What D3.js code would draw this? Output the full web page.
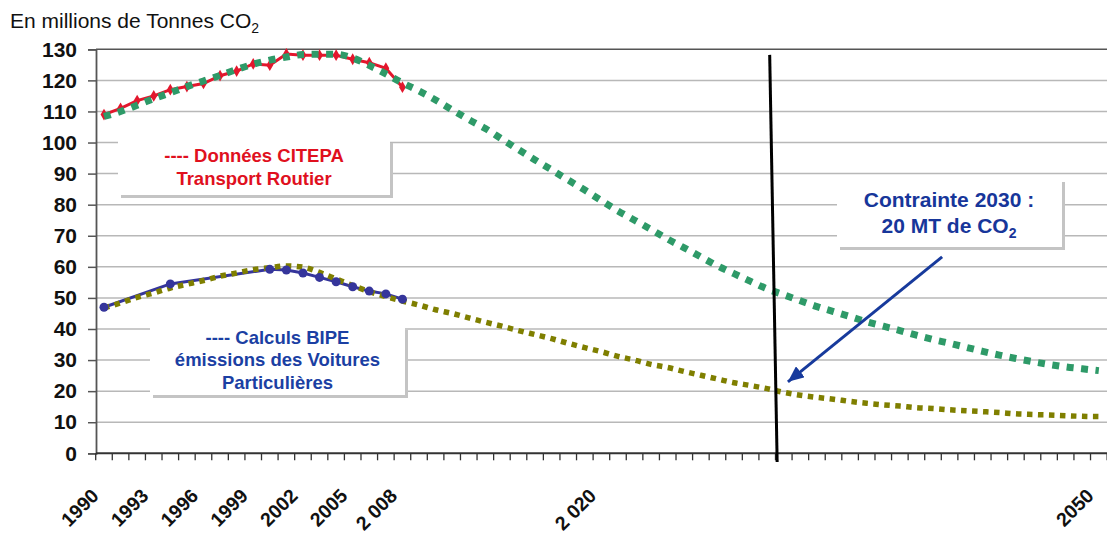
<!DOCTYPE html>
<html>
<head>
<meta charset="utf-8">
<script src="https://cdn.jsdelivr.net/npm/d3@7"></script>
<style>
  body { margin: 0; background: #fff; }
  svg { display: block; font-family: "Liberation Sans", Arial, sans-serif; }
</style>
</head>
<body>
<div id="viz"></div>
<script>
// ---- data ----
var years = d3.range(1990, 2051);

var citepaYears = d3.range(1990, 2009);
var citepa = [109, 111, 113.5, 115, 117, 118, 119, 121.5, 123, 125.3, 124.9, 128.5, 128.1, 128.1, 128.1, 126.8, 125.7, 123.9, 117.8];

var bipeYears = [1990, 1994, 2000, 2001, 2002, 2003, 2004, 2005, 2006, 2007, 2008];
var bipe = [47.0, 54.5, 59.2, 59.0, 58.0, 56.6, 55.2, 53.6, 52.2, 51.3, 49.6];

// projection, transport routier (green dots)
var routierTrend = [108.4, 110.0, 112.0, 114.1, 116.0, 118.0, 119.8, 121.6, 123.5, 125.2,
                    126.5, 127.5, 128.3, 128.4, 128.4, 127.2, 124.8, 122.1, 119.2, 116.6,
                    113.7, 110.5, 107.4, 104.5, 101.1, 97.7, 94.4, 91.2, 87.9, 84.7,
                    81.3, 78.0, 75.0, 72.0, 68.9, 66.1, 63.2, 60.3, 57.8, 55.3,
                    52.9, 51.0, 49.1, 47.2, 45.6, 44.0, 42.3, 40.9, 39.5, 38.0,
                    36.6, 35.4, 34.1, 32.8, 31.6, 30.5, 29.5, 28.6, 27.8, 27.2,
                    26.6];

// projection, voitures particulieres (olive dots)
var voituresTrend = [46.8, 48.4, 50.2, 51.6, 53.2, 54.4, 55.6, 57.0, 58.0, 59.1,
                     59.7, 60.3, 59.9, 58.2, 56.1, 54.0, 52.0, 50.4, 49.0, 47.7,
                     46.2, 45.0, 43.6, 42.2, 40.9, 39.5, 38.2, 36.9, 35.4, 34.0,
                     32.7, 31.2, 30.0, 28.6, 27.6, 26.3, 25.1, 23.9, 22.7, 21.8,
                     20.8, 19.6, 18.7, 18.0, 17.4, 16.7, 16.1, 15.6, 15.2, 14.7,
                     14.4, 14.0, 13.7, 13.4, 13.1, 12.7, 12.5, 12.3, 12.1, 11.9,
                     11.8];

var yTicks = d3.range(0, 131, 10);
var labelYears = [1990, 1993, 1996, 1999, 2002, 2005, 2008, 2020, 2050];
var labelTexts = ["1990", "1993", "1996", "1999", "2002", "2005", "2 008", "2 020", "2050"];

// 2030 marker line and arrow (year, value)
var limitLine = [[2030.15, 128.2], [2030.6, -2.8]];
var arrowPts = [[2040.55, 63.2], [2031.25, 23.0]];

// ---- layout ----
var width = 1107, height = 534;
var plotLeft = 96, plotRight = 1107, plotTop = 49.3, plotBottom = 453.3;

var svg = d3.select("#viz").append("svg")
    .attr("width", width)
    .attr("height", height);

var x = d3.scaleLinear().domain([1989.5, 2050.5]).range([95.7, 1107.1]);
var y = d3.scaleLinear().domain([0, 130]).range([plotBottom, plotTop]);

// title
var title = svg.append("text")
    .attr("x", 10).attr("y", 28)
    .attr("font-size", 21).attr("fill", "#111")
    .text("En millions de Tonnes CO");
title.append("tspan").attr("font-size", 14).attr("dy", 5).text("2");

// gridlines
svg.append("g").selectAll("line")
    .data(yTicks.filter(function (d) { return d > 0 && d < 130; }))
    .enter().append("line")
    .attr("x1", plotLeft).attr("x2", plotRight)
    .attr("y1", function (d) { return y(d); })
    .attr("y2", function (d) { return y(d); })
    .attr("stroke", "#b8b8b8").attr("stroke-width", 1.5);

svg.append("line")
    .attr("x1", plotLeft).attr("x2", plotRight)
    .attr("y1", y(130)).attr("y2", y(130))
    .attr("stroke", "#555").attr("stroke-width", 1.5);

// y axis
var yAxis = svg.append("g")
    .attr("transform", "translate(" + plotLeft + ",0)")
    .call(d3.axisLeft(y).tickValues(yTicks).tickSize(8).tickPadding(11));
yAxis.select(".domain").attr("stroke", "#555").attr("stroke-width", 1.8);
yAxis.selectAll(".tick line").attr("stroke", "#555").attr("stroke-width", 1.5);
yAxis.selectAll("text")
    .attr("font-family", "Liberation Sans, Arial, sans-serif")
    .attr("font-size", 21).attr("font-weight", "bold").attr("fill", "#111");

// x axis : ticks between the yearly categories
svg.append("line")
    .attr("x1", plotLeft).attr("x2", plotRight)
    .attr("y1", plotBottom).attr("y2", plotBottom)
    .attr("stroke", "#333").attr("stroke-width", 2);

svg.append("g").selectAll("line")
    .data(d3.range(1989.5, 2051, 1))
    .enter().append("line")
    .attr("x1", function (d) { return x(d); })
    .attr("x2", function (d) { return x(d); })
    .attr("y1", plotBottom).attr("y2", plotBottom + 7)
    .attr("stroke", "#333").attr("stroke-width", 1.3);

svg.append("g").selectAll("text")
    .data(labelYears)
    .enter().append("text")
    .attr("transform", function (d) { return "translate(" + (x(d) - 4) + ",497) rotate(-45)"; })
    .attr("text-anchor", "end")
    .attr("font-size", 19.5).attr("font-weight", "bold").attr("fill", "#111")
    .text(function (d, i) { return labelTexts[i]; });

// ---- series ----
var line = d3.line()
    .x(function (d) { return x(d[0]); })
    .y(function (d) { return y(d[1]); });
var smooth = d3.line()
    .curve(d3.curveMonotoneX)
    .x(function (d) { return x(d[0]); })
    .y(function (d) { return y(d[1]); });

var citepaPts = citepaYears.map(function (yr, i) { return [yr, citepa[i]]; });
var bipePts = bipeYears.map(function (yr, i) { return [yr, bipe[i]]; });
var routierPts = years.map(function (yr, i) { return [yr, routierTrend[i]]; });
var voituresPts = years.map(function (yr, i) { return [yr, voituresTrend[i]]; });

// CITEPA red
svg.append("path").attr("d", line(citepaPts))
    .attr("fill", "none").attr("stroke", "#e3172d").attr("stroke-width", 3);
svg.append("g").selectAll("path")
    .data(citepaPts)
    .enter().append("path")
    .attr("d", d3.symbol().type(d3.symbolDiamond).size(40))
    .attr("transform", function (d) { return "translate(" + x(d[0]) + "," + y(d[1]) + ")"; })
    .attr("fill", "#e3172d");

// green dotted trend
svg.append("path").attr("d", smooth(routierPts))
    .attr("fill", "none").attr("stroke", "#2e9a68")
    .attr("stroke-width", 7).attr("stroke-dasharray", "7,7.5");

// BIPE blue line (under the olive dots)
svg.append("path").attr("d", line(bipePts))
    .attr("fill", "none").attr("stroke", "#35359b").attr("stroke-width", 3);

// olive dotted trend
svg.append("path").attr("d", smooth(voituresPts))
    .attr("fill", "none").attr("stroke", "#7f7f00")
    .attr("stroke-width", 5.5).attr("stroke-dasharray", "5.5,5.5");

// BIPE markers
svg.append("g").selectAll("circle")
    .data(bipePts)
    .enter().append("circle")
    .attr("cx", function (d) { return x(d[0]); })
    .attr("cy", function (d) { return y(d[1]); })
    .attr("r", 4.5)
    .attr("fill", "#35359b");

// 2030 vertical line
svg.append("path").attr("d", line(limitLine))
    .attr("stroke", "#000").attr("stroke-width", 3);

// ---- annotation boxes ----
function box(bx, by, bw, bh) {
    svg.append("rect").attr("x", bx + 3).attr("y", by + 3).attr("width", bw).attr("height", bh)
        .attr("fill", "#c4c4c4");
    svg.append("rect").attr("x", bx).attr("y", by).attr("width", bw).attr("height", bh)
        .attr("fill", "#fff");
}

box(118, 140, 272, 55);
svg.append("text").attr("x", 254).attr("y", 162)
    .attr("text-anchor", "middle").attr("font-size", 18.5).attr("font-weight", "bold")
    .attr("fill", "#e0101e").text("---- Données CITEPA");
svg.append("text").attr("x", 254).attr("y", 185)
    .attr("text-anchor", "middle").attr("font-size", 18.5).attr("font-weight", "bold")
    .attr("fill", "#e0101e").text("Transport Routier");

box(150, 327, 255, 68);
var blueLines = ["---- Calculs BIPE", "émissions des Voitures", "Particulières"];
svg.append("g").selectAll("text")
    .data(blueLines)
    .enter().append("text")
    .attr("x", 277.5)
    .attr("y", function (d, i) { return 343.5 + i * 22.5; })
    .attr("text-anchor", "middle").attr("font-size", 18.5).attr("font-weight", "bold")
    .attr("fill", "#1b3fa3")
    .text(function (d) { return d; });

box(837, 179, 225, 68);
svg.append("text").attr("x", 949).attr("y", 207)
    .attr("text-anchor", "middle").attr("font-size", 21).attr("font-weight", "bold")
    .attr("fill", "#17369a").text("Contrainte 2030 :");
var t2 = svg.append("text").attr("x", 949).attr("y", 233)
    .attr("text-anchor", "middle").attr("font-size", 21).attr("font-weight", "bold")
    .attr("fill", "#17369a").text("20 MT de CO");
t2.append("tspan").attr("font-size", 14).attr("dy", 5).text("2");

// arrow
svg.append("defs").append("marker")
    .attr("id", "head")
    .attr("markerUnits", "userSpaceOnUse")
    .attr("markerWidth", 18).attr("markerHeight", 14)
    .attr("refX", 16).attr("refY", 7)
    .attr("orient", "auto")
  .append("path")
    .attr("d", "M0,0 L16,7 L0,14 Z")
    .attr("fill", "#173a9c");

svg.append("path").attr("d", line(arrowPts))
    .attr("stroke", "#173a9c").attr("stroke-width", 3)
    .attr("marker-end", "url(#head)");
</script>
</body>
</html>
